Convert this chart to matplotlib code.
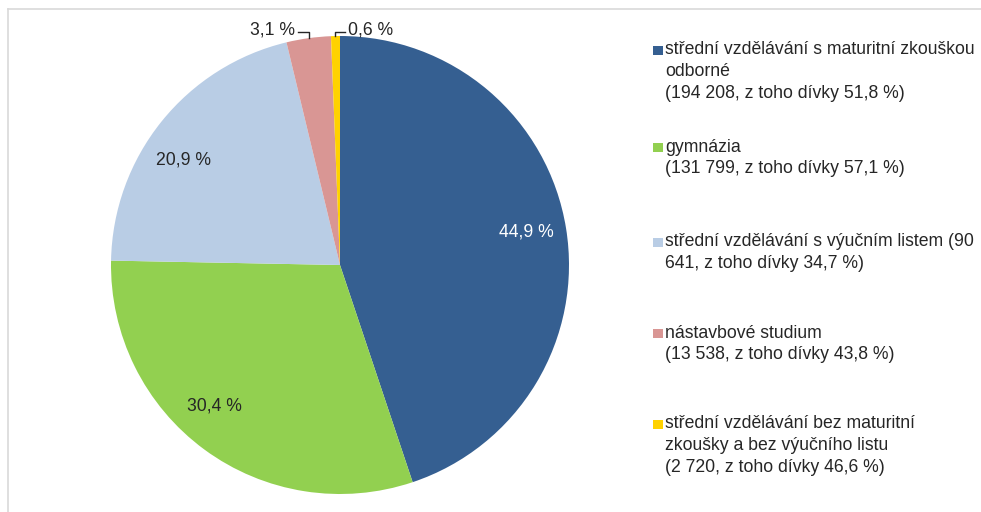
import matplotlib
matplotlib.use("Agg")
import matplotlib.pyplot as plt
from matplotlib.patches import Rectangle
from matplotlib.lines import Line2D
import numpy as np

plt.rcParams['font.family'] = ['Liberation Sans', 'DejaVu Sans']

categories = [
    "střední vzdělávání s maturitní zkouškou\nodborné\n(194 208, z toho dívky 51,8 %)",
    "gymnázia\n(131 799, z toho dívky 57,1 %)",
    "střední vzdělávání s výučním listem (90\n641, z toho dívky 34,7 %)",
    "nástavbové studium\n(13 538, z toho dívky 43,8 %)",
    "střední vzdělávání bez maturitní\nzkoušky a bez výučního listu\n(2 720, z toho dívky 46,6 %)",
]
counts = [194208, 131799, 90641, 13538, 2720]
colors = ["#355F91", "#92D050", "#B9CDE5", "#D99694", "#FFD200"]

W, H = 981, 512
fig = plt.figure(figsize=(W / 100, H / 100), dpi=100)
fig.patch.set_facecolor("white")

# axes in pixel-like units scaled to radius 1
cx, cy, R = 340, 265, 229
ax = fig.add_axes([0, 0, 1, 1])
wedges, _ = ax.pie(counts, colors=colors, startangle=90, counterclock=False,
                   radius=1, wedgeprops=dict(linewidth=0))
ax.set_xlim(-cx / R, (W - cx) / R)
ax.set_ylim(-(H - cy) / R, cy / R)
ax.set_aspect('auto')
ax.axis('off')

def px(x, y):
    return ((x - cx) / R, (cy - y) / R)

total = sum(counts)
pcts = [c / total * 100 for c in counts]
labels = [f"{p:.1f}".replace(".", ",") + " %" for p in pcts]

fs = 12.7
txt_col = '#262626'
# inside labels
for i, w in enumerate(wedges[:3]):
    ang = np.deg2rad((w.theta1 + w.theta2) / 2)
    r = 0.825
    offs = [0.015, -0.091, 0.085][i]
    ang2 = ang + offs
    ax.text(r * np.cos(ang2), r * np.sin(ang2), labels[i], ha='center', va='center',
            fontsize=fs, color='white' if i == 0 else txt_col)

# outside labels with leader lines
ly = 32
for i, side in [(3, -1), (4, 1)]:
    w = wedges[i]
    ang = np.deg2rad((w.theta1 + w.theta2) / 2)
    ex, ey = np.cos(ang), np.sin(ang)
    exp_, eyp = cx + ex * R, cy - ey * R
    endx = exp_ + side * (11 if side < 0 else 10)
    xs = [exp_, exp_, endx]
    ys = [eyp, ly, ly]
    pts = [px(a, b) for a, b in zip(xs, ys)]
    ax.plot([p[0] for p in pts], [p[1] for p in pts], color=txt_col, lw=1.0)
    tx, ty = px(endx + side * 3, 30)
    ax.text(tx, ty, labels[i], ha='right' if side < 0 else 'left', va='center',
            fontsize=fs, color=txt_col)

# legend
first_y = [50, 147, 242, 333, 424]
line_h = 21.5
for lab, col, y0 in zip(categories, colors, first_y):
    fig.patches.append(Rectangle((653 / W, 1 - (y0 + 4.5) / H), 9.5 / W, 9 / H,
                                 transform=fig.transFigure, facecolor=col,
                                 edgecolor='none'))
    for j, line in enumerate(lab.split("\n")):
        fig.text(665 / W, 1 - (y0 + j * line_h) / H, line, ha='left', va='center',
                 fontsize=fs, color=txt_col)

# frame
fig.add_artist(Line2D([8 / W, 1], [1 - 9 / H, 1 - 9 / H], transform=fig.transFigure,
                      color='#D9D9D9', lw=1.2))
fig.add_artist(Line2D([8 / W, 8 / W], [1 - 9 / H, 0], transform=fig.transFigure,
                      color='#D9D9D9', lw=1.2))

fig.savefig("out.png", dpi=100, facecolor='white')
